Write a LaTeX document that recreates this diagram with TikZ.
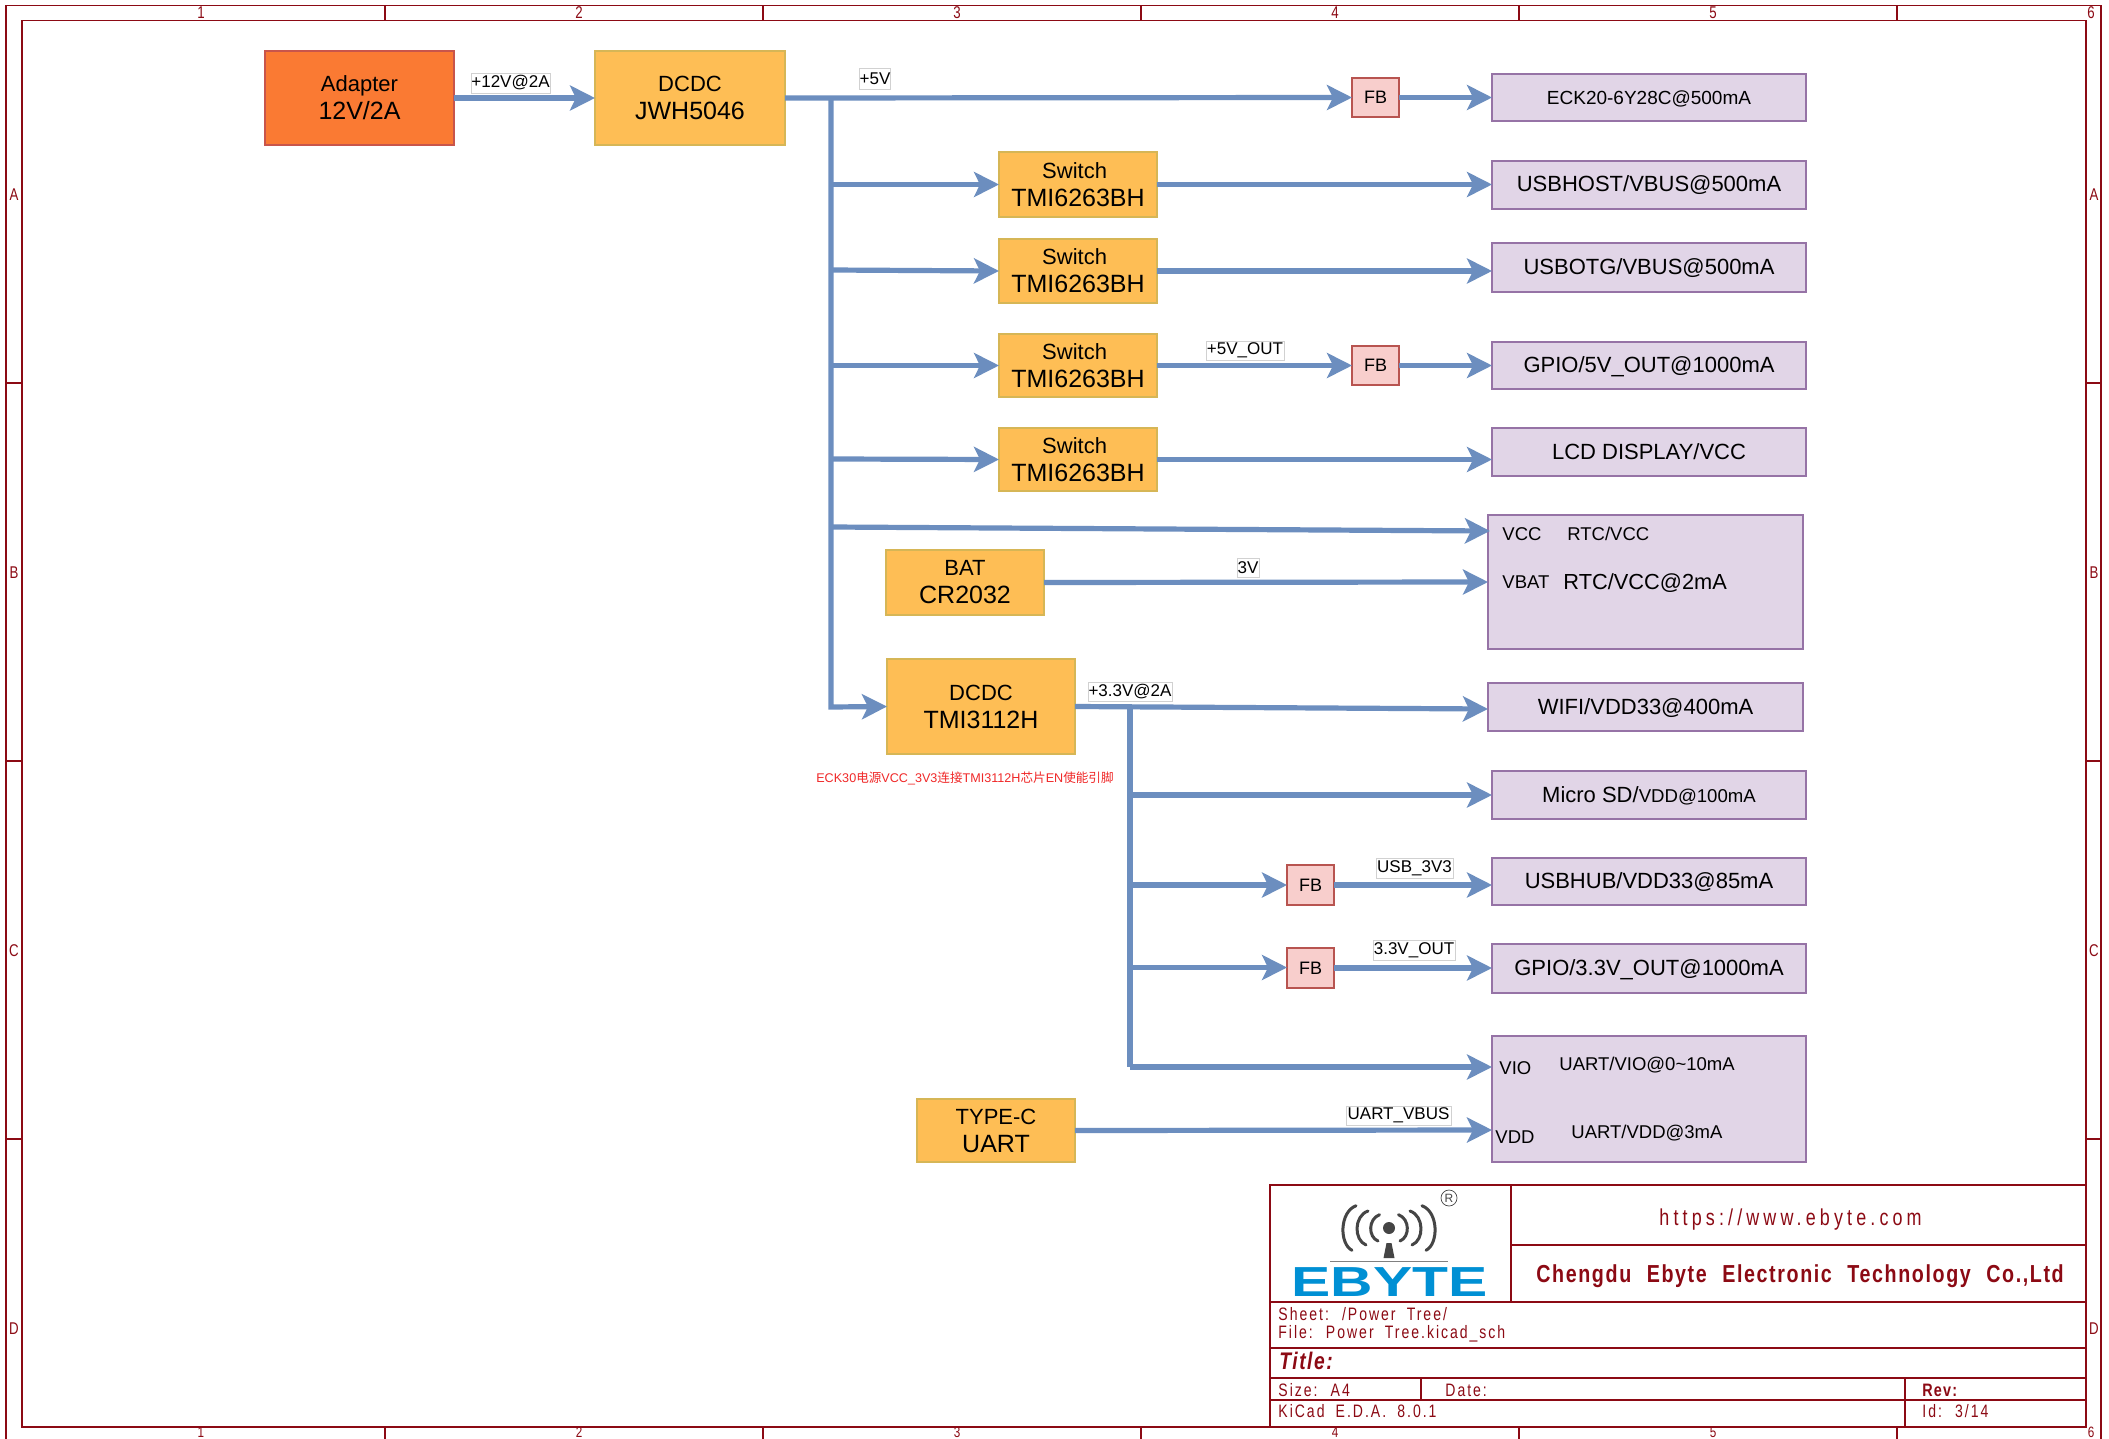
\documentclass[tikz,border=0pt]{standalone}
\usepackage{fontspec}
\usetikzlibrary{arrows.meta,calc}
\setmainfont{Liberation Sans}
\newfontfamily\cjkf{Noto Sans CJK SC}
\newfontfamily\kc[FakeStretch=0.78,LetterSpace=11,WordSpace=1.9]{Liberation Sans}
\newfontfamily\kcu[FakeStretch=0.78,LetterSpace=18]{Liberation Sans}
\newfontfamily\kcb[FakeStretch=0.8,LetterSpace=6.5,WordSpace=2.2]{Liberation Sans}
\definecolor{kred}{HTML}{8C0A14}
\definecolor{flow}{HTML}{6C8EBF}
\definecolor{ebblue}{HTML}{0090D4}
\definecolor{loggray}{HTML}{454545}
\newcommand{\fz}[1]{\fontsize{#1}{16}\selectfont}
\newcommand{\two}[2]{\fz{11}#1\\[2pt]\fz{12.5}#2}
\newcommand{\boxnode}[7][]{%
  \pgfmathsetmacro\bw{(#5-#3)*0.5}\pgfmathsetmacro\bh{(#6-#4)*0.5}%
  \pgfmathsetmacro\bcx{(#3+#5)/2}\pgfmathsetmacro\bcy{(#4+#6)/2}%
  \node[#1,minimum width=\bw pt,minimum height=\bh pt] (#2) at (\bcx,\bcy) {#7};}
\tikzset{
  x=0.5pt,y=-0.5pt,
  blk/.style={draw,line width=0.65pt,inner sep=0pt,outer sep=0pt,align=center,text=black},
  adapterbox/.style={blk,fill={rgb,255:red,250;green,122;blue,51},draw={rgb,255:red,200;green,85;blue,75}},
  yellowbox/.style={blk,fill={rgb,255:red,254;green,190;blue,85},draw={rgb,255:red,214;green,182;blue,86}},
  fbbox/.style={blk,fill={rgb,255:red,248;green,206;blue,204},draw={rgb,255:red,184;green,84;blue,80},font=\fz{9}},
  loadbox/.style={blk,fill={rgb,255:red,225;green,213;blue,231},draw={rgb,255:red,150;green,115;blue,166},font=\fz{11},text height=8.5pt,text depth=1.5pt},
  netlabel/.style={draw=black!18,line width=0.4pt,fill=white,inner sep=0pt,outer sep=0pt,font=\fz{8.5}},
  pw/.style={draw=flow,line width=2.6pt},
  pwa/.style={pw,-{Stealth[length=12.5pt,width=12.5pt,inset=3pt]}},
  frameline/.style={draw=kred,line width=0.65pt},
  edgetxt/.style={text=kred,inner sep=0pt,font=\kc\fz{8.5}},
  ttl/.style={text=kred,inner sep=0pt,anchor=west,font=\kc\fz{9}},
  plain/.style={inner sep=0pt,text=black},
}
\begin{document}
\begin{tikzpicture}
\useasboundingbox (0,0) rectangle (2109,1439);
\fill[white] (0,0) rectangle (2109,1439);
% sheet frame
\draw[frameline] (6,1445) -- (6,5.5) -- (2101,5.5) -- (2101,1445);
\draw[frameline] (22,20.5) rectangle (2086,1427);
\foreach \tx in {385,763,1141,1519,1897} {
  \draw[frameline] (\tx,5.5) -- (\tx,20.5);
  \draw[frameline] (\tx,1427) -- (\tx,1439);
}
\foreach \ty in {383,761,1139} {
  \draw[frameline] (6,\ty) -- (22,\ty);
  \draw[frameline] (2086,\ty) -- (2101,\ty);
}
\foreach \tx/\tn in {201/1,579/2,957/3,1335/4,1713/5,2091/6} {
  \node[edgetxt] at (\tx,13) {\tn};
  \node[edgetxt,font=\kc\fz{7.5}] at (\tx,1432) {\tn};
}
\foreach \ty/\tn in {195/A,573/B,951/C,1329/D} {
  \node[edgetxt] at (14,\ty) {\tn};
  \node[edgetxt] at (2094,\ty) {\tn};
}
% title block
\draw[frameline] (1270,1185) rectangle (2086,1427);
\draw[frameline] (1511,1185) -- (1511,1302);
\draw[frameline] (1511,1245) -- (2086,1245);
\draw[frameline] (1270,1302) -- (2086,1302);
\draw[frameline] (1270,1348) -- (2086,1348);
\draw[frameline] (1270,1378) -- (2086,1378);
\draw[frameline] (1270,1400) -- (2086,1400);
\draw[frameline] (1421,1378) -- (1421,1400);
\draw[frameline] (1905,1378) -- (1905,1427);
\node[ttl,font=\kcu\fz{11.5}] at (1659,1220) {https://www.ebyte.com};
\node[ttl,font=\kcb\bfseries\fz{12.3}] at (1536,1276) {Chengdu Ebyte Electronic Technology Co.,Ltd};
\node[ttl] at (1278,1314) {Sheet: /Power Tree/};
\node[ttl] at (1278,1334) {File: Power Tree.kicad\_sch};
\node[ttl,font=\kcb\bfseries\itshape\fz{12}] at (1279,1361) {Title:};
\node[ttl] at (1278,1390) {Size: A4};
\node[ttl] at (1445,1390) {Date:};
\node[ttl,font=\kcb\bfseries\fz{9}] at (1922,1390) {Rev:};
\node[ttl] at (1278,1411) {KiCad E.D.A. 8.0.1};
\node[ttl] at (1922,1411) {Id: 3/14};
% logo
\begin{scope}[shift={(1389,1228)}]
  \foreach \sx in {-1,1} {
    \draw[loggray,line width=1.5pt,line cap=round,x=\sx*0.5pt] (33,-22.3) .. controls (49.7,-16) and (49.7,16) .. (37,22.3);
    \draw[loggray,line width=1.5pt,line cap=round,x=\sx*0.5pt] (21,-17) .. controls (35.3,-12) and (35.3,12) .. (23,17);
    \draw[loggray,line width=1.5pt,line cap=round,x=\sx*0.5pt] (9.5,-13.3) .. controls (21,-9) and (21,9) .. (11,13);
  }
  \fill[loggray] (0,0) circle[radius=6];
  \fill[loggray] (-2.5,15) -- (2.5,15) -- (5.5,30) -- (-5.5,30) -- cycle;
  \draw[gray,line width=0.5pt] (-59,33) -- (59,33);
\end{scope}
\node[circle,draw=loggray,line width=0.35pt,text=loggray,inner sep=0pt,minimum size=8pt,font=\fz{6}] (regmark) at (1449,1198) {R};
\node[inner sep=0pt,text=ebblue,font=\bfseries\fz{21}] (eblogo) at (1389.5,1282.5) {\scalebox{1.40}[1]{EBYTE}};
% blocks
\boxnode[adapterbox]{ad}{265}{51}{454}{145}{\two{Adapter}{12V/2A}}
\boxnode[yellowbox]{dc1}{595}{51}{785}{145}{\two{DCDC}{JWH5046}}
\boxnode[yellowbox]{sw1}{999}{152}{1157}{217}{\two{Switch\hspace*{3.4pt}}{TMI6263BH}}
\boxnode[yellowbox]{sw2}{999}{239}{1157}{303}{\two{Switch\hspace*{3.4pt}}{TMI6263BH}}
\boxnode[yellowbox]{sw3}{999}{334}{1157}{397}{\two{Switch\hspace*{3.4pt}}{TMI6263BH}}
\boxnode[yellowbox]{sw4}{999}{428}{1157}{491}{\two{Switch\hspace*{3.4pt}}{TMI6263BH}}
\boxnode[yellowbox]{bat}{886}{550}{1044}{615}{\two{BAT}{CR2032}}
\boxnode[yellowbox]{dc3}{887}{659}{1075}{754}{\two{DCDC}{TMI3112H}}
\boxnode[yellowbox]{typec}{917}{1099}{1075}{1162}{\two{TYPE-C}{UART}}
\boxnode[fbbox]{fb1}{1352}{78}{1399}{117}{FB}
\boxnode[fbbox]{fb2}{1352}{346}{1399}{385}{FB}
\boxnode[fbbox]{fb3}{1287}{865}{1334}{905}{FB}
\boxnode[fbbox]{fb4}{1287}{948}{1334}{988}{FB}
\boxnode[loadbox,font=\fz{9.5}]{eck}{1492}{74}{1806}{121}{ECK20-6Y28C@500mA}
\boxnode[loadbox]{host}{1492}{161}{1806}{209}{USBHOST/VBUS@500mA}
\boxnode[loadbox]{otg}{1492}{243}{1806}{292}{USBOTG/VBUS@500mA}
\boxnode[loadbox]{gpio5}{1492}{342}{1806}{389}{GPIO/5V\_OUT@1000mA}
\boxnode[loadbox]{lcd}{1492}{428}{1806}{476}{LCD DISPLAY/VCC}
\boxnode[loadbox]{rtc}{1488}{515}{1803}{649}{}
\boxnode[loadbox]{wifi}{1488}{683}{1803}{731}{WIFI/VDD33@400mA}
\boxnode[loadbox]{sd}{1492}{771}{1806}{819}{Micro SD/{\fz{9.3}VDD@100mA}}
\boxnode[loadbox]{hub}{1492}{858}{1806}{905}{USBHUB/VDD33@85mA}
\boxnode[loadbox]{gpio3}{1492}{944}{1806}{993}{GPIO/3.3V\_OUT@1000mA}
\boxnode[loadbox]{uart}{1492}{1036}{1806}{1162}{}
% texts inside the two large boxes
\node[plain,anchor=west,font=\fz{9.25}] (t1) at (1502,534) {VCC};
\node[plain,anchor=west,font=\fz{9.25}] (t2) at (1567,534) {RTC/VCC};
\node[plain,anchor=west,font=\fz{9.25}] (t3) at (1502,582.5) {VBAT};
\node[plain,anchor=west,font=\fz{10.9}] (t4) at (1563,583) {RTC/VCC@2mA};
\node[plain,anchor=west,font=\fz{9.25}] (t5) at (1499,1068) {VIO};
\node[plain,anchor=west,font=\fz{9.25}] (t6) at (1559,1065) {UART/VIO@0\textasciitilde 10mA};
\node[plain,anchor=west,font=\fz{9.25}] (t7) at (1495,1137) {VDD};
\node[plain,anchor=west,font=\fz{9.25}] (t8) at (1571,1133) {UART/VDD@3mA};
% junctions and free arrow ends
\coordinate (j0) at (831,98);
\coordinate (j1) at (831,184.5);
\coordinate (j2) at (831,270);
\coordinate (j3) at (831,365.5);
\coordinate (j4) at (831,459);
\coordinate (j5) at (831,527);
\coordinate (jd) at (831,707);
\coordinate (rv) at (1490,531);
\coordinate (rb) at (1488,582);
\coordinate (k0) at (1130,708);
\coordinate (k1) at (1130,795);
\coordinate (k2) at (1130,885);
\coordinate (k3) at (1130,967.5);
\coordinate (k4) at (1130,1067);
\coordinate (wa) at (1488,709);
\coordinate (ua) at (1492,1067);
\coordinate (ub) at (1492,1130);
% connectors
\draw[pwa] (ad.east) -- (dc1.west);
\draw[pwa] (dc1.east) -- (fb1.west);
\draw[pwa] (fb1.east) -- (eck.west);
\draw[pwa] (j0) -- (jd) -- (dc3.west);
\draw[pwa] (j1) -- (sw1.west);
\draw[pwa] (sw1.east) -- (sw1.east -| host.west);
\draw[pwa] (j2) -- (sw2.west);
\draw[pwa] (sw2.east) -- (sw2.east -| otg.west);
\draw[pwa] (j3) -- (sw3.west);
\draw[pwa] (sw3.east) -- (fb2.west);
\draw[pwa] (fb2.east) -- (gpio5.west);
\draw[pwa] (j4) -- (sw4.west);
\draw[pwa] (sw4.east) -- (sw4.east -| lcd.west);
\draw[pwa] (j5) -- (rv);
\draw[pwa] (bat.east) -- (rb);
\draw[pwa] (dc3.east) -- (wa);
\draw[pw] (k0) -- (k4);
\draw[pwa] (k1) -- (k1 -| sd.west);
\draw[pwa] (k2) -- (k2 -| fb3.west);
\draw[pwa] (k2 -| fb3.east) -- (k2 -| hub.west);
\draw[pwa] (k3) -- (k3 -| fb4.west);
\draw[pwa] (fb4.east) -- (fb4.east -| gpio3.west);
\draw[pwa] (k4) -- (ua);
\draw[pwa] (typec.east) -- (ub);
% net labels
\boxnode[netlabel]{l1}{471}{73}{550}{93}{+12V@2A}
\boxnode[netlabel]{l2}{860}{68}{890}{89}{+5V}
\boxnode[netlabel]{l3}{1206}{341}{1284}{360}{+5V\_OUT}
\boxnode[netlabel]{l4}{1237}{558}{1259}{577}{3V}
\boxnode[netlabel]{l5}{1088}{682}{1172}{701}{+3.3V@2A}
\boxnode[netlabel]{l6}{1376}{858}{1453}{878}{USB\_3V3}
\boxnode[netlabel]{l7}{1373}{940}{1455}{960}{3.3V\_OUT}
\boxnode[netlabel]{l8}{1346}{1106}{1451}{1125}{UART\_VBUS}
\node[inner sep=0pt,text={rgb,255:red,240;green,40;blue,40},font=\fz{6.3}] (note) at (965,778) {ECK30{\cjkf 电源}VCC\_3V3{\cjkf 连接}TMI3112H{\cjkf 芯片}EN{\cjkf 使能引脚}};
\end{tikzpicture}
\end{document}
